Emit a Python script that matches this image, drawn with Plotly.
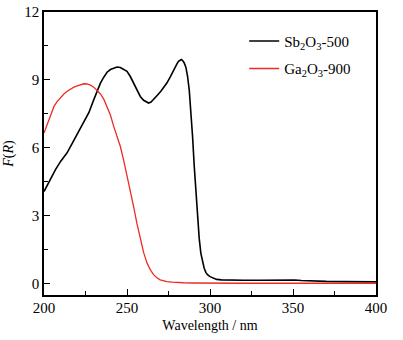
import plotly.graph_objects as go

# Sb2O3-500 (black)
sb_x = [200, 202, 204, 207, 210, 213.8, 217, 220, 223.9, 227, 230, 232, 234, 236, 238, 240, 242, 244, 246, 248, 250, 252, 254, 256, 258, 260, 262, 263, 264.5, 266, 268, 270.4, 272, 274, 276, 278, 280, 281, 282, 282.8, 283.5, 284.5, 285.5, 286.5, 287.5, 288.5, 289.5, 290.5, 291.5, 292.5, 293.5, 294.5, 295.5, 296.5, 297.5, 298.5, 300, 302, 304, 307, 310, 314, 320, 330, 340, 346, 348, 349, 351, 355, 360, 370, 380, 390, 400]
sb_y = [4.07, 4.35, 4.66, 5.05, 5.4, 5.77, 6.2, 6.6, 7.1, 7.55, 8.13, 8.5, 8.86, 9.12, 9.34, 9.46, 9.53, 9.57, 9.55, 9.48, 9.38, 9.15, 8.86, 8.55, 8.27, 8.1, 8.0, 7.98, 8.02, 8.13, 8.3, 8.5, 8.65, 8.86, 9.12, 9.45, 9.7, 9.82, 9.88, 9.9, 9.86, 9.75, 9.55, 9.15, 8.55, 7.7, 6.5, 5.2, 4.0, 2.9, 2.0, 1.34, 0.95, 0.68, 0.5, 0.4, 0.31, 0.24, 0.19, 0.17, 0.16, 0.155, 0.15, 0.15, 0.15, 0.15, 0.17, 0.18, 0.16, 0.14, 0.12, 0.1, 0.09, 0.08, 0.08]

# Ga2O3-900 (red)
ga_x = [200, 201, 202, 203, 204, 205, 206, 208, 210, 212, 214, 216, 218, 220, 222, 224, 226, 228, 230, 232, 234, 236, 238, 240, 242, 244, 246, 248, 250, 252, 254, 256, 258, 260, 262, 264, 266, 268, 270, 272, 274, 277, 280, 284, 290, 300, 320, 350, 400]
ga_y = [6.65, 6.85, 7.05, 7.25, 7.45, 7.65, 7.83, 8.05, 8.22, 8.38, 8.5, 8.6, 8.68, 8.74, 8.8, 8.83, 8.82, 8.77, 8.68, 8.55, 8.38, 8.15, 7.83, 7.45, 6.95, 6.5, 6.06, 5.45, 4.8, 4.1, 3.4, 2.65, 1.95, 1.38, 0.92, 0.62, 0.4, 0.26, 0.17, 0.12, 0.09, 0.07, 0.05, 0.04, 0.03, 0.02, 0.02, 0.02, 0.02]

x_ticks = [200, 250, 300, 350, 400]
y_ticks = [0, 3, 6, 9, 12]

font_family = "Liberation Serif, Times New Roman, serif"

fig = go.Figure()
fig.add_trace(go.Scatter(x=sb_x, y=sb_y, mode="lines", name="Sb<sub>2</sub>O<sub>3</sub>-500",
                         legendgroup="a", line=dict(color="black", width=1.6)))
fig.add_trace(go.Scatter(x=ga_x, y=ga_y, mode="lines", name="Ga<sub>2</sub>O<sub>3</sub>-900",
                         legendgroup="b", line=dict(color="#ee2a24", width=1.3)))

fig.update_layout(
    template="none",
    width=403, height=340,
    margin=dict(l=44, r=27, t=12, b=45),
    paper_bgcolor="white", plot_bgcolor="white",
    font=dict(family=font_family, size=14, color="black"),
    showlegend=True,
    legend=dict(x=0.603, y=0.955, xanchor="left", yanchor="top", bgcolor="rgba(0,0,0,0)",
                font=dict(family=font_family, size=15, color="black"), tracegroupgap=5,
                traceorder="grouped"),
    xaxis=dict(range=[200, 400], tickvals=x_ticks, ticktext=[str(v) for v in x_ticks],
               ticks="inside", ticklen=6, tickwidth=1.2, tickcolor="black",
               minor=dict(dtick=25, ticks="inside", ticklen=4, tickcolor="black", tickwidth=1.2),
               showline=True, linecolor="black", linewidth=1.5, mirror=True,
               showgrid=False, zeroline=False, automargin=False,
               ticklabeloverflow="allow", ticklabelstandoff=-2,
               tickfont=dict(size=15, color="black"),
               title=dict(text="Wavelength / nm", font=dict(size=14, color="black"), standoff=5)),
    yaxis=dict(range=[-0.5, 12], tickvals=y_ticks, ticktext=[str(v) for v in y_ticks],
               ticks="inside", ticklen=6, tickwidth=1.2, tickcolor="black",
               minor=dict(dtick=1.5, tick0=0, ticks="inside", ticklen=4, tickcolor="black", tickwidth=1.2),
               showline=True, linecolor="black", linewidth=1.5, mirror=True,
               showgrid=False, zeroline=False, automargin=False,
               ticklabeloverflow="allow",
               tickfont=dict(size=15, color="black"),
               title=dict(text="<i>F</i>(<i>R</i>)", font=dict(size=14, color="black"), standoff=7)),
)

# remove the page's default 8px body margin so the figure fills the window exactly
fig.write_html("out.html", config={"displayModeBar": False},
               post_script="document.body.style.margin='0';")
